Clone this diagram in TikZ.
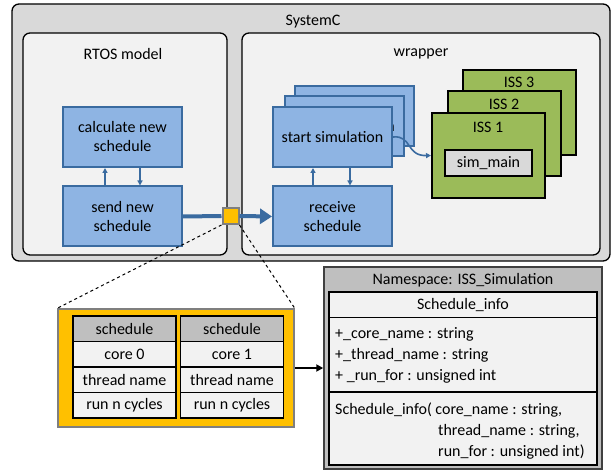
\documentclass[tikz,border=0pt]{standalone}
\usepackage{fontspec}
\setmainfont{Carlito}
\usetikzlibrary{arrows.meta}
\definecolor{bluefill}{HTML}{8EB4E3}
\definecolor{blueedge}{HTML}{3A6BA0}
\definecolor{issgreen}{HTML}{9BBB59}
\definecolor{portyellow}{HTML}{FFC000}
\definecolor{outergray}{HTML}{D9D9D9}
\definecolor{innergray}{HTML}{F2F2F2}
\definecolor{headgray}{HTML}{BFBFBF}
\definecolor{edgegray}{HTML}{7F7F7F}
\tikzset{
  txt/.style={font=\fontsize{16}{19}\selectfont, inner sep=0pt},
  container/.style={draw=black, line width=1.3, rounded corners=7},
  procbox/.style={txt, draw=blueedge, fill=bluefill, line width=2,
    minimum width=119, minimum height=60, align=center},
  issbox/.style={draw=black, fill=issgreen, line width=2,
    minimum width=113, minimum height=85},
  cell/.style={txt, draw=black, fill=innergray, line width=1.6,
    minimum width=103, minimum height=25.5},
  headcell/.style={cell, fill=headgray},
  thinarrow/.style={draw=blueedge, line width=1.6,
    -{Triangle[length=5, width=5]}},
  fatline/.style={draw=blueedge, line width=4},
  fatarrow/.style={fatline, -{Triangle[length=12, width=15]}},
  zoomline/.style={draw=black, line width=1, dashed},
  memberline/.style={txt, anchor=west},
}
\begin{document}
\begin{tikzpicture}[x=1pt, y=-1pt]
\useasboundingbox (0,0) rectangle (613,470);
\fill[white] (0,0) rectangle (613,470);

% containers
\draw[container, fill=outergray] (12,4) rectangle (610,261);
\node[txt] (systemc) at (313,22) {SystemC};
\draw[container, fill=innergray] (23,33) rectangle (227,255);
\node[txt] (rtos) at (123,54) {RTOS model};
\draw[container, fill=innergray] (242,33) rectangle (600,255);
\node[txt] (wrapper) at (421,54) {wrapper};

% RTOS model processes
\node[procbox] (calc) at (122.5,137) {calculate new\\schedule};
\node[procbox] (send) at (122.5,216.5) {send new\\schedule};
\draw[thinarrow] ([xshift=-17.5]send.north) -- ([xshift=-17.5]calc.south);
\draw[thinarrow] ([xshift=17.5]calc.south) -- ([xshift=17.5]send.north);

% wrapper processes (stacked simulation threads)
\node[procbox] (sim3) at (354.5,116) {start simulation};
\node[procbox] (sim2) at (344,126.5) {start simulation};
\node[procbox] (sim) at (332.5,137) {start simulation};
\node[procbox] (recv) at (332.5,216.5) {receive\\schedule};
\draw[thinarrow] ([xshift=-19.5]recv.north) -- ([xshift=-19.5]sim.south);
\draw[thinarrow] ([xshift=17.5]sim.south) -- ([xshift=17.5]recv.north);

% instruction set simulators
\node[issbox] (iss3) at (519,113) {};
\node[txt] (iss3l) at (519,82) {ISS 3};
\node[issbox] (iss2) at (504,134) {};
\node[txt] (iss2l) at (504,104) {ISS 2};
\node[issbox] (iss1) at (488.5,155.5) {};
\node[txt] (iss1l) at (488,127) {ISS 1};
\node[txt, draw=black, fill=outergray, line width=1.6,
  minimum width=87, minimum height=26] (simmain) at (488.5,163) {sim\_main};

\draw[thinarrow] (sim.east) .. controls (412,135) and (406,156) .. (iss1.west);

% schedule transfer through the port
\node[draw=edgegray, fill=portyellow, line width=2,
  minimum size=16, inner sep=0pt] (port) at (230.5,216) {};
\draw[fatline] (send.east) -- (port.west);
\draw[fatarrow] (port.east) -- (recv.west);

% detail of the transferred data
\node[draw=edgegray, fill=portyellow, line width=1.5,
  minimum width=236, minimum height=118, inner sep=0pt] (detail) at (176,368) {};
\draw[zoomline] (port.south west) -- (detail.north west);
\draw[zoomline] (port.south east) -- (detail.north east);

\node[headcell] (a0) at (124.5,328.75) {schedule};
\node[cell] (a1) at (124.5,354.25) {core 0};
\node[cell] (a2) at (124.5,379.75) {thread name};
\node[cell] (a3) at (124.5,405.25) {run n cycles};
\node[headcell] (b0) at (232,328.75) {schedule};
\node[cell] (b1) at (232,354.25) {core 1};
\node[cell] (b2) at (232,379.75) {thread name};
\node[cell] (b3) at (232,405.25) {run n cycles};

% namespace class box
\node[draw=black!75, fill=headgray, line width=1.5,
  minimum width=278, minimum height=202, inner sep=0pt] (ns) at (463,368) {};
\node[txt] (nslabel) at (463,280) {Namespace: ISS\_Simulation};
\node[draw=black, fill=innergray, line width=1.5,
  minimum width=268, minimum height=173, inner sep=0pt] (cls) at (463,378.5) {};
\draw[black, line width=1.5] (cls.west |- 0,317.5) -- (cls.east |- 0,317.5);
\draw[black, line width=1.5] (cls.west |- 0,392) -- (cls.east |- 0,392);
\node[txt] (clsname) at (463,305) {Schedule\_info};
\node[memberline] (m1) at (335,334) {+\_core\_name : string};
\node[memberline] (m2) at (335,355) {+\_thread\_name : string};
\node[memberline] (m3) at (335,376) {+ \_run\_for : unsigned int};
\node[memberline] (c1) at (335,410) {Schedule\_info( core\_name : string,};
\node[memberline] (c2) at (438,431) {thread\_name : string,};
\node[memberline] (c3) at (438,452) {run\_for : unsigned int)};

\draw[black, line width=2.5, -{Triangle[length=7, width=7]}] (detail.east) -- (ns.west);
\end{tikzpicture}
\end{document}
